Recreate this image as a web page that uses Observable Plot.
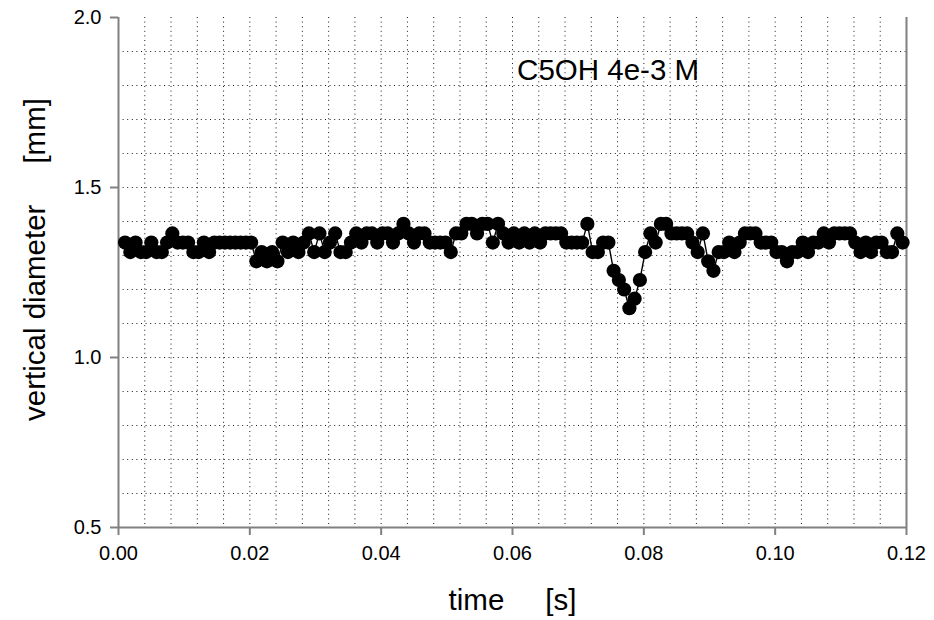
<!DOCTYPE html>
<html>
<head>
<meta charset="utf-8">
<script src="https://cdn.jsdelivr.net/npm/d3@7"></script>
<script src="https://cdn.jsdelivr.net/npm/@observablehq/plot@0.6"></script>
<style>
  html, body { margin: 0; padding: 0; background: #fff; }
  #chart { width: 934px; height: 620px; }
</style>
</head>
<body>
<div id="chart"></div>
<script>
// time [s]
const time = [
  0.0010, 0.0018, 0.0026, 0.0034, 0.0042, 0.0050, 0.0058, 0.0066, 0.0074, 0.0082,
  0.0090, 0.0098, 0.0106, 0.0114, 0.0122, 0.0130, 0.0138, 0.0146, 0.0154, 0.0162,
  0.0170, 0.0178, 0.0186, 0.0194, 0.0202, 0.0210, 0.0218, 0.0226, 0.0234, 0.0242,
  0.0250, 0.0258, 0.0266, 0.0274, 0.0282, 0.0290, 0.0298, 0.0306, 0.0314, 0.0322,
  0.0330, 0.0338, 0.0346, 0.0354, 0.0362, 0.0370, 0.0378, 0.0386, 0.0394, 0.0402,
  0.0410, 0.0418, 0.0426, 0.0434, 0.0442, 0.0450, 0.0458, 0.0466, 0.0474, 0.0482,
  0.0490, 0.0498, 0.0506, 0.0514, 0.0522, 0.0530, 0.0538, 0.0546, 0.0554, 0.0562,
  0.0570, 0.0578, 0.0586, 0.0594, 0.0602, 0.0610, 0.0618, 0.0626, 0.0634, 0.0642,
  0.0650, 0.0658, 0.0666, 0.0674, 0.0682, 0.0690, 0.0698, 0.0706, 0.0714, 0.0722,
  0.0730, 0.0738, 0.0746, 0.0754, 0.0762, 0.0770, 0.0778, 0.0786, 0.0794, 0.0802,
  0.0810, 0.0818, 0.0826, 0.0834, 0.0842, 0.0850, 0.0858, 0.0866, 0.0874, 0.0882,
  0.0890, 0.0898, 0.0906, 0.0914, 0.0922, 0.0930, 0.0938, 0.0946, 0.0954, 0.0962,
  0.0970, 0.0978, 0.0986, 0.0994, 0.1002, 0.1010, 0.1018, 0.1026, 0.1034, 0.1042,
  0.1050, 0.1058, 0.1066, 0.1074, 0.1082, 0.1090, 0.1098, 0.1106, 0.1114, 0.1122,
  0.1130, 0.1138, 0.1146, 0.1154, 0.1162, 0.1170, 0.1178, 0.1186, 0.1194
];

// vertical diameter [mm]
const diameter = [
  1.338, 1.310, 1.338, 1.310, 1.310, 1.338, 1.310, 1.310, 1.338, 1.365,
  1.338, 1.338, 1.338, 1.310, 1.310, 1.338, 1.310, 1.338, 1.338, 1.338,
  1.338, 1.338, 1.338, 1.338, 1.338, 1.283, 1.310, 1.283, 1.310, 1.283,
  1.338, 1.310, 1.338, 1.310, 1.338, 1.365, 1.310, 1.365, 1.310, 1.338,
  1.365, 1.310, 1.310, 1.338, 1.365, 1.338, 1.365, 1.365, 1.338, 1.365,
  1.365, 1.338, 1.365, 1.393, 1.365, 1.338, 1.365, 1.365, 1.338, 1.338,
  1.338, 1.338, 1.310, 1.365, 1.365, 1.393, 1.393, 1.365, 1.393, 1.393,
  1.338, 1.393, 1.365, 1.338, 1.365, 1.338, 1.365, 1.338, 1.365, 1.338,
  1.365, 1.365, 1.365, 1.365, 1.338, 1.338, 1.338, 1.338, 1.393, 1.310,
  1.310, 1.338, 1.338, 1.255, 1.228, 1.200, 1.145, 1.173, 1.228, 1.310,
  1.365, 1.338, 1.393, 1.393, 1.365, 1.365, 1.365, 1.365, 1.338, 1.310,
  1.365, 1.283, 1.255, 1.310, 1.310, 1.338, 1.310, 1.338, 1.365, 1.365,
  1.365, 1.338, 1.338, 1.338, 1.310, 1.310, 1.283, 1.310, 1.310, 1.338,
  1.310, 1.338, 1.338, 1.365, 1.338, 1.365, 1.365, 1.365, 1.365, 1.338,
  1.310, 1.338, 1.310, 1.338, 1.338, 1.310, 1.310, 1.365, 1.338
];

const xTicks = [0.00, 0.02, 0.04, 0.06, 0.08, 0.10, 0.12];
const yTicks = [0.5, 1.0, 1.5, 2.0];
const xTitle = "time\u00a0\u00a0\u00a0\u00a0\u00a0[s]";
const yTitle = "vertical diameter\u00a0\u00a0\u00a0\u00a0\u00a0[mm]";
const note = "C5OH 4e-3 M";

const data = time.map((t, i) => ({t, d: diameter[i]}));
const xGrid = d3.range(1, 30).map(k => k * 0.004);
const yGrid = d3.range(1, 15).map(k => 0.5 + k * 0.1);

const font = "'Liberation Sans', Arial, Helvetica, sans-serif";
const gray = "#808080";

const chart = Plot.plot({
  width: 934,
  height: 620,
  marginLeft: 118,
  marginRight: 28,
  marginTop: 17,
  marginBottom: 93,
  style: {fontFamily: font, fontSize: "20px", background: "white", color: "black"},
  x: {domain: [0, 0.12]},
  y: {domain: [0.5, 2.0]},
  marks: [
    Plot.gridX(xGrid, {stroke: "black", strokeOpacity: 0.9, strokeWidth: 1, strokeDasharray: "1,3.6"}),
    Plot.gridY(yGrid, {stroke: "black", strokeOpacity: 0.9, strokeWidth: 1, strokeDasharray: "1,3.6"}),
    Plot.ruleX([0.12], {stroke: gray, strokeWidth: 2}),
    Plot.axisX(xTicks, {tickFormat: d => d.toFixed(2), tickSize: 8, tickPadding: 10, stroke: gray, strokeWidth: 2, fill: "black", fontSize: 20, label: null}),
    Plot.axisY(yTicks, {tickFormat: d => d.toFixed(1), tickSize: 8, tickPadding: 9, stroke: gray, strokeWidth: 2, fill: "black", fontSize: 20, label: null}),
    Plot.ruleX([0], {stroke: gray, strokeWidth: 2}),
    Plot.ruleY([0.5], {stroke: gray, strokeWidth: 2}),
    Plot.line(data, {x: "t", y: "d", stroke: "black", strokeWidth: 1.4}),
    Plot.dot(data, {x: "t", y: "d", r: 7.1, fill: "black", stroke: "none"}),
    Plot.text([note], {x: 0.0607, y: 1.845, text: d => d, textAnchor: "start", fontSize: 29.5, fill: "black"}),
    Plot.text([xTitle], {frameAnchor: "bottom", dy: 82, text: d => d, textAnchor: "middle", fontSize: 29.5, fill: "black"}),
    Plot.text([yTitle], {frameAnchor: "left", dx: -83, dy: -13, rotate: -90, text: d => d, textAnchor: "middle", fontSize: 29.5, fill: "black"})
  ]
});
document.getElementById("chart").appendChild(chart);
</script>
</body>
</html>
